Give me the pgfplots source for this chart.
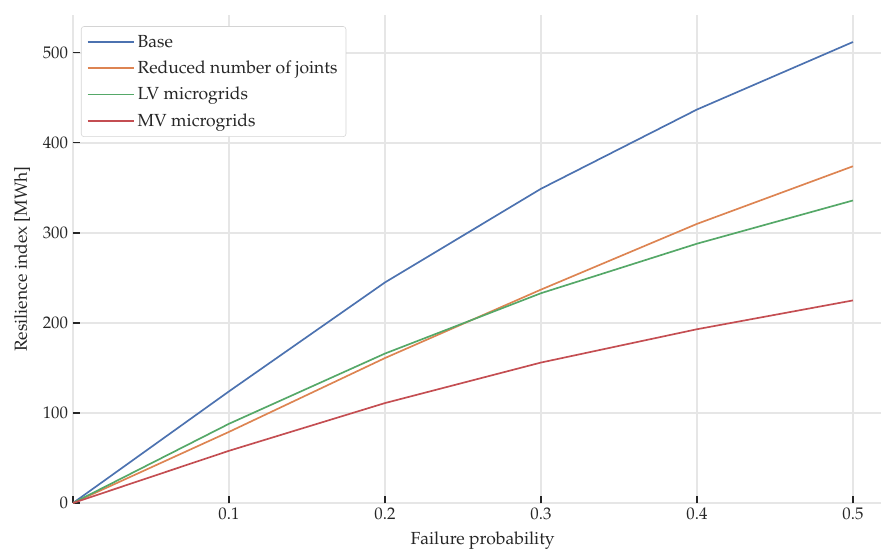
\documentclass[border=0pt]{standalone}
\usepackage[T1]{fontenc}
\usepackage{mathpazo}
\usepackage{pgfplots}
\pgfplotsset{compat=1.18}

\definecolor{sbblue}{HTML}{4C72B0}
\definecolor{sborange}{HTML}{DD8452}
\definecolor{sbgreen}{HTML}{55A868}
\definecolor{sbred}{HTML}{C44E52}
\definecolor{gridgray}{HTML}{E6E6E6}
\definecolor{txt}{HTML}{262626}

\begin{document}
\begin{tikzpicture}[x=0.7141pt,y=0.7141pt]
\begin{axis}[
   scale only axis,
   width=577pt, height=348.5pt,
   xmin=0, xmax=0.518,
   ymin=0, ymax=542,
   axis line style={draw=none},
   grid=major,
   grid style={color=gridgray, line width=1pt},
   xtick={0,0.1,0.2,0.3,0.4,0.5},
   xticklabels={,0.1,0.2,0.3,0.4,0.5},
   ytick={0,100,200,300,400,500},
   xtick pos=bottom, ytick pos=left,
   tick align=inside,
   major tick length=5pt,
   tick style={color=txt, line width=0.9pt},
   tick label style={font=\fontsize{12}{14}\selectfont, text=txt},
   label style={font=\fontsize{12.5}{15}\selectfont, text=txt},
   xlabel={Failure probability},
   ylabel={Resilience index [MWh]},
   xlabel style={at={(axis description cs:0.507,-0.078)}, anchor=center},
   ylabel style={at={(axis description cs:-0.063,0.5)}, anchor=center},
   legend cell align=left,
   legend style={at={(0.0099,0.977)}, anchor=north west,
      draw=gridgray!80!black!60, rounded corners=2pt, fill=white,
      font=\fontsize{12.5}{15}\selectfont, text=txt,
      row sep=4.3pt, inner xsep=4pt, inner ysep=4pt},
   legend image code/.code={
      \path (0pt,0pt) -- (33pt,0pt);
      \draw[#1, line width=1.3pt] (0pt,0pt) -- (26.5pt,0pt);},
   every axis plot/.append style={line width=1.2pt},
]
\addplot[sbblue] coordinates {(0,0) (0.1,124) (0.2,245) (0.3,349) (0.4,437) (0.5,512)};
\addlegendentry{Base}
\addplot[sborange] coordinates {(0,0) (0.1,79) (0.2,161) (0.3,237) (0.4,310) (0.5,374)};
\addlegendentry{Reduced number of joints}
\addplot[sbgreen] coordinates {(0,0) (0.1,88) (0.2,166) (0.3,233) (0.4,288) (0.5,336)};
\addlegendentry{LV microgrids}
\addplot[sbred] coordinates {(0,0) (0.1,58) (0.2,111) (0.3,156) (0.4,193) (0.5,225)};
\addlegendentry{MV microgrids}
\end{axis}
\pgfresetboundingbox
\useasboundingbox (current axis.south west) ++(-73,-49) rectangle ([yshift=15*0.7141pt]current axis.north east);
\end{tikzpicture}
\end{document}
